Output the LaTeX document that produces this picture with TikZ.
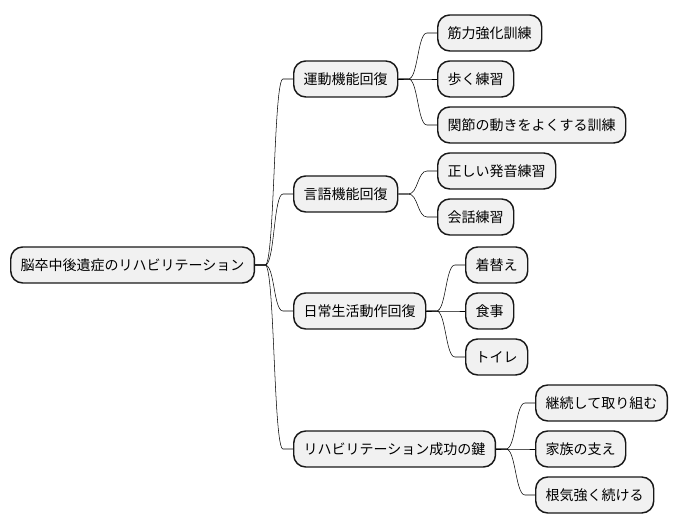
\documentclass[tikz,border=0pt]{standalone}
\usepackage{fontspec}
\setmainfont{Noto Sans CJK JP}
\usetikzlibrary{calc}
\definecolor{NodeClr}{HTML}{F1F1F1}
\definecolor{LineClr}{HTML}{181818}

\begin{document}
\begin{tikzpicture}[x=0.75pt,y=-0.75pt,
  box/.style={draw=LineClr,fill=NodeClr,line width=1.1pt,rounded corners=9pt,
    minimum height=27pt,inner xsep=7.5pt,inner ysep=0pt,anchor=west,
    font=\fontsize{10.5pt}{12pt}\selectfont},
  branch/.style={draw=LineClr,line width=0.8pt,
    to path={(\tikztostart) -- ++(10,0)
      .. controls +(9.5,0) and +(-9.5,0) .. ($(\tikztotarget)+(-10,0)$)
      -- (\tikztotarget)}}]
\useasboundingbox (0,0) rectangle (678,530);

% root
\node[box] (R) at (10,265) {脳卒中後遺症のリハビリテーション};

% first level
\node[box] (A) at (293,79)  {運動機能回復};
\node[box] (B) at (293,194) {言語機能回復};
\node[box] (C) at (293,311) {日常生活動作回復};
\node[box] (D) at (293,449) {リハビリテーション成功の鍵};

% second level
\node[box] (A1) at (437,33)  {筋力強化訓練};
\node[box] (A2) at (437,79)  {歩く練習};
\node[box] (A3) at (437,125) {関節の動きをよくする訓練};
\node[box] (B1) at (437,171) {正しい発音練習};
\node[box] (B2) at (437,217) {会話練習};
\node[box] (C1) at (465,265) {着替え};
\node[box] (C2) at (465,311) {食事};
\node[box] (C3) at (465,357) {トイレ};
\node[box] (D1) at (535,403) {継続して取り組む};
\node[box] (D2) at (535,449) {家族の支え};
\node[box] (D3) at (535,495) {根気強く続ける};

\foreach \c in {A,B,C,D}
  \draw (R.east) to[branch] (\c.west);
\foreach \c in {A1,A2,A3}
  \draw (A.east) to[branch] (\c.west);
\foreach \c in {B1,B2}
  \draw (B.east) to[branch] (\c.west);
\foreach \c in {C1,C2,C3}
  \draw (C.east) to[branch] (\c.west);
\foreach \c in {D1,D2,D3}
  \draw (D.east) to[branch] (\c.west);

\end{tikzpicture}
\end{document}
